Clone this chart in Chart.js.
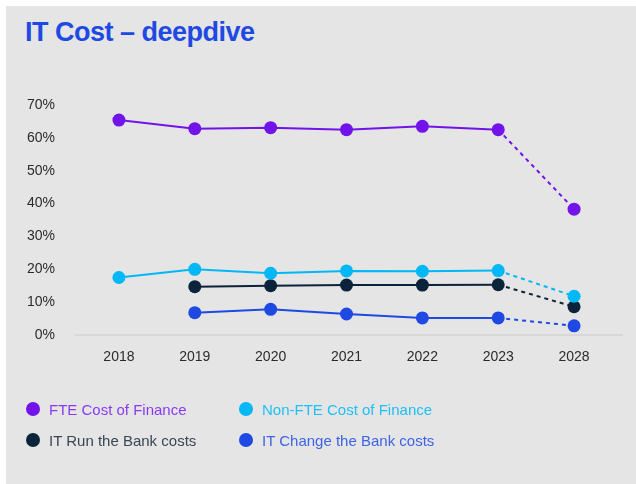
<!DOCTYPE html>
<html>
<head>
<meta charset="utf-8">
<script src="https://cdn.jsdelivr.net/npm/chart.js@4"></script>
<style>
  html, body { margin: 0; padding: 0; background: #fff; }
  #panel {
    position: absolute; left: 6px; top: 6px; width: 630px; height: 478px;
    background: #e5e5e5;
  }
  #title {
    position: absolute; left: 19px; top: 11px;
    font: bold 27px "Liberation Sans", Arial, sans-serif;
    letter-spacing: -0.5px;
    color: #1e49e2;
  }
  #chartBox { position: absolute; left: 0; top: 0; width: 636px; height: 484px; }
  #legend {
    position: absolute; left: 26px; top: 400px;
    display: grid; grid-template-columns: 213px 220px; row-gap: 13px;
    font: 15px "Liberation Sans", Arial, sans-serif;
  }
  .item { display: flex; align-items: center; height: 18px; }
  .dot { width: 14px; height: 14px; border-radius: 50%; margin-right: 9px; }
</style>
</head>
<body>
<div id="panel"><div id="title">IT Cost – deepdive</div></div>
<div id="chartBox"><canvas id="myCanvas" width="636" height="484"></canvas></div>
<div id="legend"></div>
<script>
var years = ["2018", "2019", "2020", "2021", "2022", "2023", "2028"];
var fteCost = [65.4, 62.8, 63.1, 62.5, 63.5, 62.5, 38.3];
var nonFteCost = [17.5, 20.0, 18.8, 19.5, 19.4, 19.6, 11.8];
var runBank = [null, 14.7, 15.0, 15.2, 15.2, 15.3, 8.6];
var changeBank = [null, 6.8, 7.8, 6.4, 5.2, 5.2, 2.8];
var names = ["FTE Cost of Finance", "Non-FTE Cost of Finance", "IT Run the Bank costs", "IT Change the Bank costs"];
var colors = ["#7213ea", "#00b8f5", "#0c233c", "#1e49e2"];
var textColors = ["#8a3bf0", "#1ec0f5", "#3a4654", "#3f63e6"];

// last segment (forecast) is dashed
function lineSet(i, values) {
  return {
    label: names[i],
    data: values,
    borderColor: colors[i],
    backgroundColor: colors[i],
    borderWidth: 2,
    pointRadius: 6.5,
    pointHoverRadius: 6.5,
    pointBorderWidth: 0,
    segment: {
      borderDash: function(c) { return c.p1DataIndex === years.length - 1 ? [4, 4] : undefined; }
    }
  };
}

// zero baseline, a bit wider than the plot area
var baseline = {
  id: 'baseline',
  beforeDatasetsDraw: function(chart) {
    var ctx = chart.ctx, a = chart.chartArea;
    var y = chart.scales.y.getPixelForValue(0);
    ctx.save();
    ctx.strokeStyle = '#d8d8d8';
    ctx.lineWidth = 2;
    ctx.beginPath();
    ctx.moveTo(a.left - 6, y);
    ctx.lineTo(a.right + 11, y);
    ctx.stroke();
    ctx.restore();
  }
};

var ctx = document.getElementById('myCanvas').getContext('2d');
var chart = new Chart(ctx, {
  type: 'line',
  data: {
    labels: years,
    datasets: [
      lineSet(0, fteCost),
      lineSet(1, nonFteCost),
      lineSet(2, runBank),
      lineSet(3, changeBank)
    ]
  },
  options: {
    responsive: false,
    animation: false,
    layout: { padding: { top: 105, right: 24, left: 0, bottom: 0 } },
    plugins: { legend: { display: false }, tooltip: { enabled: false } },
    scales: {
      x: {
        offset: true,
        grid: { display: false, drawTicks: false },
        border: { display: false },
        ticks: { color: '#2b2b2b', padding: 14, font: { family: 'Liberation Sans', size: 14 } },
        afterFit: function(s) { s.height = 149; }
      },
      y: {
        min: 0, max: 70,
        grid: { display: false, drawTicks: false },
        border: { display: false },
        ticks: {
          stepSize: 10, color: '#2b2b2b', padding: 26,
          font: { family: 'Liberation Sans', size: 14 },
          callback: function(v) { return v + '%'; }
        },
        afterFit: function(s) { s.width = 81; }
      }
    }
  },
  plugins: [baseline]
});

var legend = document.getElementById('legend');
chart.data.datasets.forEach(function(ds, i) {
  var item = document.createElement('div');
  item.className = 'item';
  item.innerHTML = '<span class="dot" style="background:' + colors[i] + '"></span>' +
    '<span style="color:' + textColors[i] + '">' + ds.label + '</span>';
  legend.appendChild(item);
});
</script>
</body>
</html>
